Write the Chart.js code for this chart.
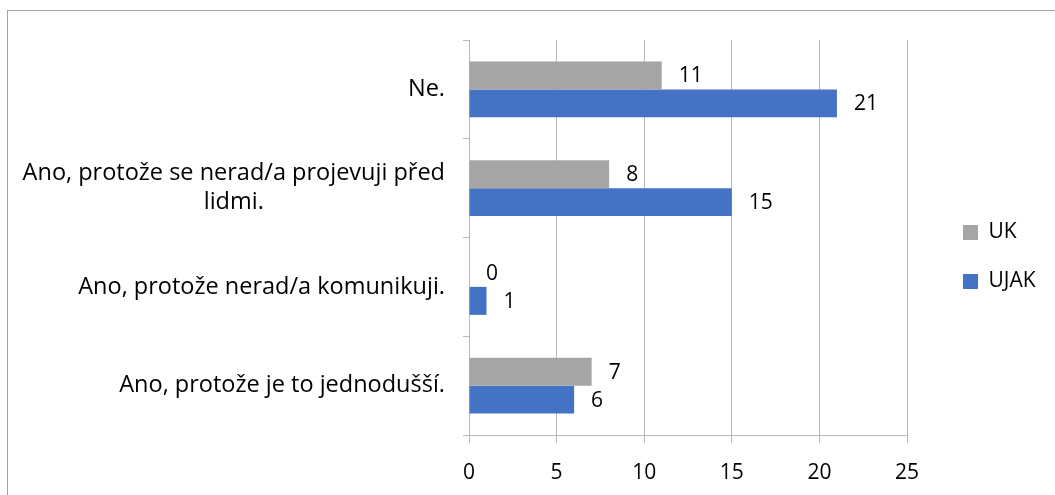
<!DOCTYPE html>
<html>
<head>
<meta charset="utf-8">
<script src="https://cdn.jsdelivr.net/npm/chart.js@4.4.1/dist/chart.umd.min.js"></script>
<style>
html,body{margin:0;padding:0;background:#fff;}
#wrap{position:relative;width:1055px;height:495px;overflow:hidden;}
#frame{position:absolute;left:7px;top:10px;width:1070px;height:520px;border:1px solid #a3a3a3;box-sizing:border-box;}
canvas{position:absolute;left:0;top:0;}
</style>
</head>
<body>
<div id="wrap"><div id="frame"></div><canvas id="c" width="1055" height="495"></canvas></div>
<script>
const categories = ["Ne.", ["Ano, protože se nerad/a projevuji před", "lidmi."], "Ano, protože nerad/a komunikuji.", "Ano, protože je to jednodušší."];
const seriesNames = ["UK", "UJAK"];
const ukValues = [11, 8, 0, 7];
const ujakValues = [21, 15, 1, 6];
const xTickValues = [0, 5, 10, 15, 20, 25];

const FONT = "'Open Sans'";
const FS_CAT = 23.5;
const FS_NUM = 21;
const GRID = "#b9b9b9";

const valueLabels = {
  id: "valueLabels",
  afterDatasetsDraw(chart) {
    const ctx = chart.ctx;
    ctx.save();
    ctx.font = FS_NUM + "px " + FONT;
    ctx.fillStyle = "#000";
    ctx.textAlign = "left";
    ctx.textBaseline = "middle";
    chart.data.datasets.forEach((ds, i) => {
      chart.getDatasetMeta(i).data.forEach((bar, j) => {
        ctx.fillText(String(ds.data[j]), bar.x + 17, bar.y + 1);
      });
    });
    ctx.restore();
  }
};

const centerMultiline = {
  id: "centerMultiline",
  beforeDraw(chart) {
    const s = chart.scales.y;
    const items = s.getLabelItems(chart.chartArea);
    const ctx = chart.ctx;
    items.forEach(it => {
      if (Array.isArray(it.label) && !it._centered) {
        ctx.save();
        ctx.font = it.font.string;
        const w = Math.max(...it.label.map(l => ctx.measureText(l).width));
        ctx.restore();
        const tr = it.options.translation;
        it.options = Object.assign({}, it.options, { translation: [tr[0] - w / 2, tr[1]], textAlign: "center" });
        it._centered = true;
      }
    });
  }
};

new Chart(document.getElementById("c"), {
  type: "bar",
  data: {
    labels: categories,
    datasets: [
      { label: seriesNames[0], data: ukValues, backgroundColor: "#a5a5a5", categoryPercentage: 0.567, barPercentage: 1.0 },
      { label: seriesNames[1], data: ujakValues, backgroundColor: "#4472c4", categoryPercentage: 0.567, barPercentage: 1.0 }
    ]
  },
  options: {
    indexAxis: "y",
    responsive: false,
    animation: false,
    events: [],
    layout: { padding: { left: 8, top: 19, right: 10, bottom: 0 } },
    scales: {
      x: {
        min: 0, max: 25,
        afterBuildTicks(s) { s.ticks = xTickValues.map(v => ({ value: v })); },
        ticks: { color: "#000", font: { family: FONT, size: FS_NUM, lineHeight: 1.2 }, padding: 17 },
        grid: { color: GRID, tickLength: 8, tickColor: GRID },
        border: { color: GRID },
        afterFit(s) { s.height = 60; }
      },
      xTop: {
        type: "linear",
        axis: "x",
        position: "top",
        display: true,
        grid: { display: false },
        ticks: { display: false },
        border: { display: false },
        afterFit(s) { s.height = 21; }
      },
      y: {
        ticks: { color: "#000", font: { family: FONT, size: FS_CAT, lineHeight: 1.23 }, padding: 18 },
        grid: { drawOnChartArea: false, tickLength: 6, offset: true, color: GRID },
        border: { color: GRID },
        afterFit(s) { s.width = 461; }
      },
      yRight: {
        type: "linear",
        axis: "y",
        position: "right",
        display: true,
        grid: { display: false },
        ticks: { display: false },
        border: { display: false },
        afterFit(s) { s.width = 28; }
      }
    },
    plugins: {
      legend: {
        position: "right",
        align: "center",
        maxWidth: 110,
        labels: { boxWidth: 15, boxHeight: 15, padding: 28, color: "#000", font: { family: FONT, size: FS_NUM } }
      },
      tooltip: { enabled: false }
    }
  },
  plugins: [valueLabels, centerMultiline]
});
</script>
</body>
</html>
